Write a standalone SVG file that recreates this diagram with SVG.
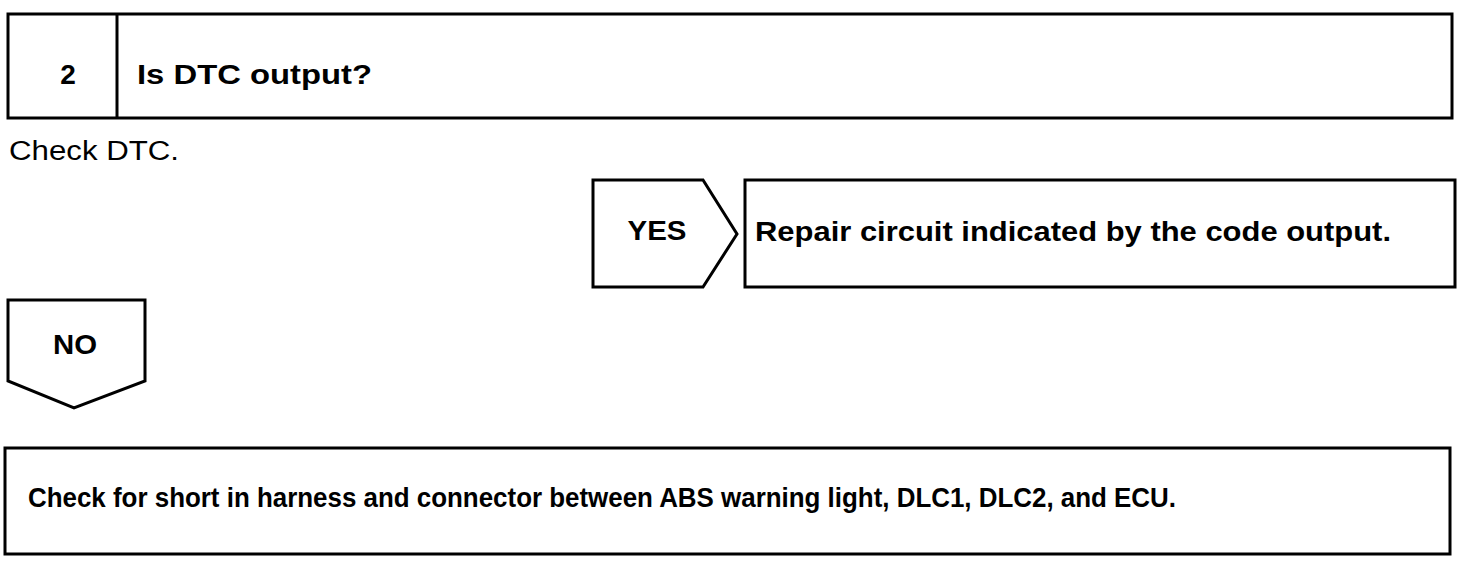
<svg xmlns="http://www.w3.org/2000/svg" width="1472" height="564" viewBox="0 0 1472 564">
<style>
.box{fill:#fff;stroke:#000;stroke-width:3;stroke-linejoin:miter}
.t{font-family:"Liberation Sans",Arial,sans-serif;font-weight:bold;fill:#000}
.r{font-family:"Liberation Sans",Arial,sans-serif;font-weight:normal;fill:#000}
</style>
<rect width="1472" height="564" fill="#fff"/>
<g id="step2">
<rect class="box" x="8" y="14" width="1444" height="104"/>
<line x1="117" y1="14" x2="117" y2="118" stroke="#000" stroke-width="3"/>
<text class="t" x="68" y="84" font-size="28" text-anchor="middle">2</text>
<text class="t" x="137" y="84" font-size="28" textLength="235" lengthAdjust="spacingAndGlyphs">Is DTC output?</text>
</g>
<g id="instruction">
<text class="r" x="9" y="160" font-size="27" textLength="170" lengthAdjust="spacingAndGlyphs">Check DTC.</text>
</g>
<g id="yes">
<polygon class="box" points="593,180 703,180 737,234 703,287 593,287"/>
<text class="t" x="657" y="240" font-size="28" text-anchor="middle" textLength="59" lengthAdjust="spacingAndGlyphs">YES</text>
</g>
<g id="repair">
<rect class="box" x="745" y="180" width="710" height="107"/>
<text class="t" x="755" y="241" font-size="28" textLength="636" lengthAdjust="spacingAndGlyphs">Repair circuit indicated by the code output.</text>
</g>
<g id="no">
<polygon class="box" points="8,300 145,300 145,381 74,408 8,381"/>
<text class="t" x="75" y="354" font-size="28" text-anchor="middle" textLength="44" lengthAdjust="spacingAndGlyphs">NO</text>
</g>
<g id="check-short">
<rect class="box" x="5" y="448" width="1445" height="106"/>
<text class="t" x="28" y="507" font-size="28" textLength="1148" lengthAdjust="spacingAndGlyphs">Check for short in harness and connector between ABS warning light, DLC1, DLC2, and ECU.</text>
</g>
<g id="connectors"></g>
</svg>
